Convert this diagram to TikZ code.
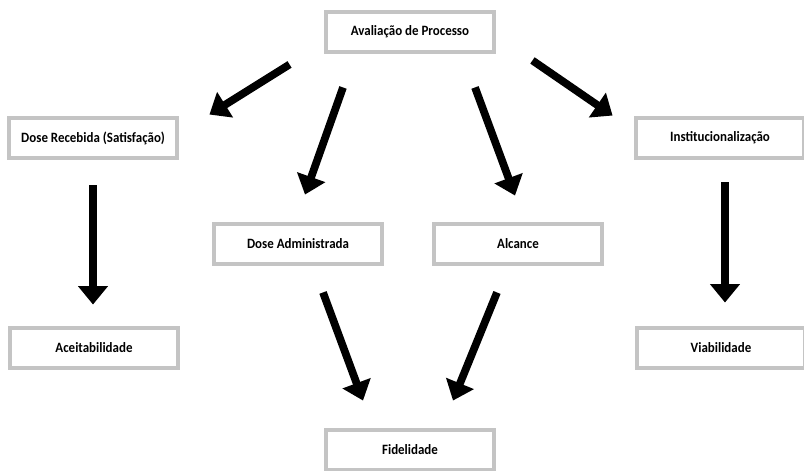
\documentclass[tikz,border=0pt]{standalone}
\usepackage{fontspec}
\setmainfont{Carlito}[FakeStretch=0.91]
\usepackage{tikz}
\usetikzlibrary{arrows.meta}
\definecolor{boxgray}{RGB}{196,196,196}

\begin{document}
\begin{tikzpicture}[
  x=0.02cm, y=-0.02cm,
  every node/.style={font=\bfseries\fontsize{8.1}{10}\selectfont},
  bx/.style={draw=boxgray, line width=2.8pt, fill=white, minimum width=3.36cm, minimum height=0.8cm, inner sep=0pt},
  arr/.style={line width=4.4pt, -{Triangle[length=3.7mm, width=5.8mm]}},
]
\useasboundingbox (0,0) rectangle (804,470);
\node[bx] (proc) at (410,32) {Avaliação de Processo};
\node[bx] (dosrec) at (93,138) {Dose Recebida (Satisfação)};
\node[bx] (inst) at (720,138) {Institucionalização};
\node[bx] (dosadm) at (298,244) {Dose Administrada};
\node[bx] (alc) at (518,244) {Alcance};
\node[bx] (aceit) at (94,348) {Aceitabilidade};
\node[bx] (viab) at (721,348) {Viabilidade};
\node[bx] (fidel) at (410,450) {Fidelidade};
\draw[arr] ([shift={(-34,10)}]proc.south west) -- ([shift={(30,-1)}]dosrec.north east);
\draw[arr] ([shift={(-67,33)}]proc.south) -- ([shift={(7,-27)}]dosadm.north);
\draw[arr] ([shift={(65,33)}]proc.south) -- ([shift={(-3,-26)}]alc.north);
\draw[arr] ([shift={(36,6)}]proc.south east) -- ([shift={(-21,0)}]inst.north west);
\draw[arr] ([shift={(0,25)}]dosrec.south) -- ([shift={(-1,-21)}]aceit.north);
\draw[arr] ([shift={(5,22)}]inst.south) -- ([shift={(4,-23)}]viab.north);
\draw[arr] ([shift={(25,26)}]dosadm.south) -- ([shift={(-47,-27)}]fidel.north);
\draw[arr] ([shift={(-21,26)}]alc.south) -- ([shift={(43,-27)}]fidel.north);
\end{tikzpicture}
\end{document}
